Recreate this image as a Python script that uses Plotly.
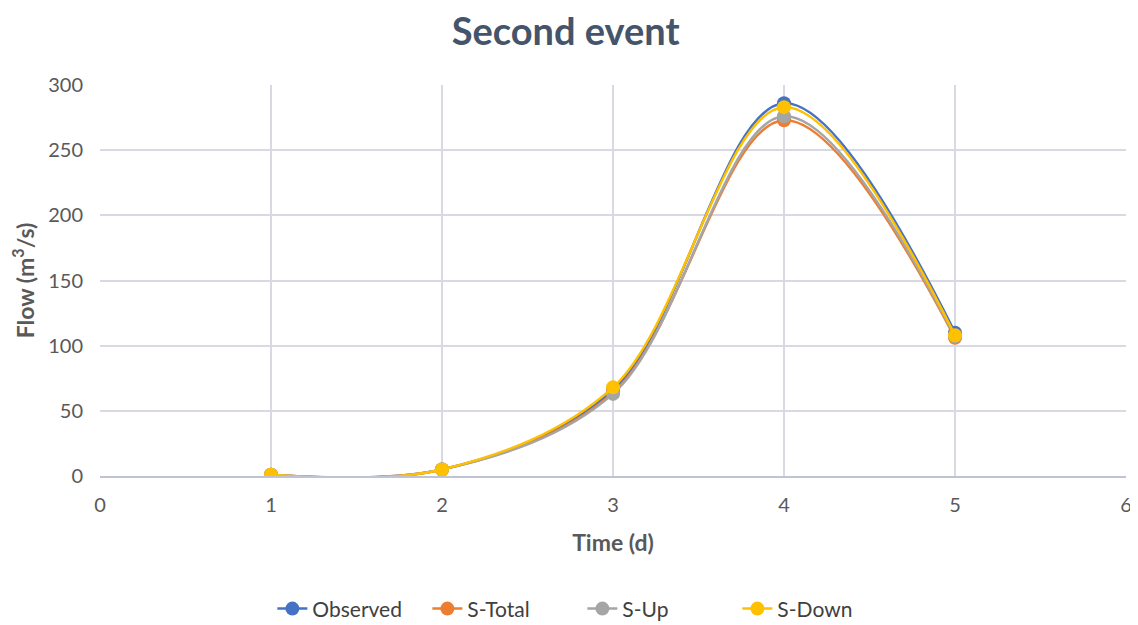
import plotly.graph_objects as go

time_d = [1, 2, 3, 4, 5]
observed = [1, 5, 66, 286, 110]
s_total = [1, 5, 64, 273, 106]
s_up = [1, 5, 63, 276, 107]
s_down = [1, 5, 68, 283, 108]

series = [
    ("Observed", observed, "#4472C4"),
    ("S-Total", s_total, "#ED7D31"),
    ("S-Up", s_up, "#A5A5A5"),
    ("S-Down", s_down, "#FFC000"),
]

fig = go.Figure()
for name, vals, color in series:
    fig.add_trace(go.Scatter(
        x=time_d, y=vals, name=name, mode="lines+markers",
        line=dict(color=color, width=2.5, shape="spline", smoothing=1.0),
        marker=dict(color=color, size=14),
    ))

font_family = "Lato, 'Open Sans', sans-serif"
fig.update_layout(
    width=1138, height=625,
    paper_bgcolor="white", plot_bgcolor="white",
    margin=dict(l=92, r=20, t=77, b=157, autoexpand=False),
    title=dict(text="<b>Second event</b>", x=0.49, xanchor="center", y=0.962, yanchor="middle",
               font=dict(family=font_family, size=38, color="#44546A")),
    font=dict(family=font_family, color="#595959"),
    legend=dict(orientation="h", x=0.168, xanchor="left", y=-0.34, yanchor="middle",
                font=dict(size=21, color="#404040"), traceorder="normal",
                entrywidth=110, entrywidthmode="pixels"),
    showlegend=True,
)
fig.update_xaxes(
    range=[0, 6], dtick=1, tick0=0, showgrid=True, gridcolor="#D9D9E3", gridwidth=2,
    zeroline=False, showline=True, linecolor="#BFC3D3", linewidth=2,
    tickfont=dict(size=20, color="#595959"), ticks="outside", ticklen=10, tickcolor="white",
    title=dict(text="<b>Time (d)</b>", font=dict(size=23, color="#595959"), standoff=20),
)
fig.update_yaxes(
    range=[0, 300], dtick=50, showgrid=True, gridcolor="#D9D9E3", gridwidth=2,
    zeroline=False, showline=False,
    tickfont=dict(size=20, color="#595959"), ticks="outside", ticklen=12, tickcolor="white",
    title=dict(text="<b>Flow (m<sup>3</sup>/s)</b>", font=dict(size=23, color="#595959"), standoff=8),
)
fig.write_html("out.html")
